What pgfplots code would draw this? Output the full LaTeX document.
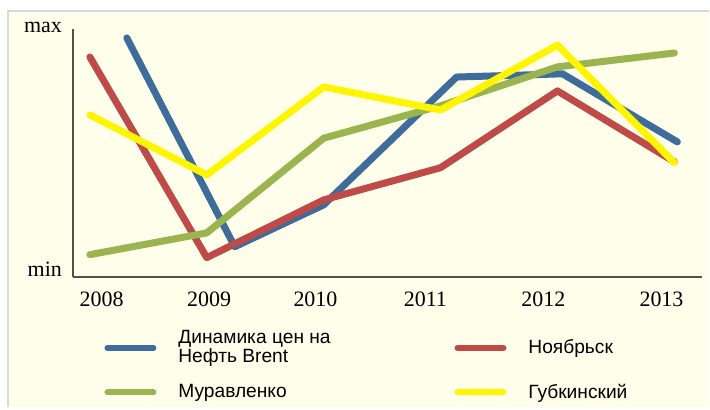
\documentclass[border=0pt]{standalone}
\usepackage{fontspec}
\setmainfont{Liberation Serif}
\newfontfamily\legendfont{Liberation Sans}
\usepackage{pgfplots}
\pgfplotsset{compat=1.18}
\definecolor{cream}{HTML}{FFFEEA}
\definecolor{framegray}{HTML}{D9D9D9}
\definecolor{axisgray}{HTML}{505050}
\definecolor{brent}{HTML}{3E6D9C}
\definecolor{noyabrsk}{HTML}{BE4B48}
\definecolor{muravlenko}{HTML}{9AB450}
\definecolor{gubkinsky}{HTML}{FFF500}

\begin{document}
\begin{tikzpicture}
% page = 710x407 px, 1 px = 0.5 bp, origin at top left
\path[fill=white] (0,0) rectangle (355bp,-203.5bp);
\fill[cream] (4bp,-5.5bp) rectangle (355bp,-203.5bp);
\draw[framegray, line width=0.75bp] (4bp,-203.5bp) -- (4bp,-5.5bp) -- (355bp,-5.5bp);
\begin{axis}[
  at={(36.5bp,-138.5bp)}, anchor=south west,
  scale only axis, width=315bp, height=124bp,
  xmin=2007.855, xmax=2013.239, ymin=0, ymax=100,
  axis x line=bottom, axis y line=left,
  axis line style={-, draw=axisgray, line width=1bp},
  major tick length=0pt, tick style={draw=none},
  xtick={2008.10,2009.02,2009.93,2010.87,2011.88,2012.89},
  xticklabels={2008,2009,2010,2011,2012,2013},
  ytick={0,100},
  yticklabels={min,\raisebox{-2bp}{max}},
  tick label style={font=\fontsize{11bp}{12bp}\selectfont},
  yticklabel style={anchor=base east, xshift=-2bp},
  xticklabel style={yshift=-4bp},
  clip=false,
  legend columns=2,
  legend cell align=left,
  legend image code/.code={\draw[#1, line width=3bp, line cap=round] (0bp,0bp) -- (23bp,0bp);},
  legend style={
    at={(0.040,-0.182)}, anchor=north west,
    draw=none, fill=none,
    font=\legendfont\fontsize{9.6bp}{9.8bp}\selectfont,
    cells={align=left},
    row sep=5bp,
    /tikz/every odd column/.append style={column sep=9bp},
    /tikz/every even column/.append style={column sep=60bp},
  },
]
\addplot[brent, line width=3.5bp, line cap=round, line join=round] coordinates {
  (2008.316,96.4) (2009.239,12.1) (2010.0,29.0) (2011.137,80.6) (2012.043,81.9) (2013.026,54.4)
};
\addlegendentry{Динамика цен на\\Нефть Brent}
\addplot[noyabrsk, line width=3.5bp, line cap=round, line join=round] coordinates {
  (2008,88.7) (2009,7.7) (2010,31.0) (2011,44.0) (2012,75.0) (2013,46.4)
};
\addlegendentry{Ноябрьск}
\addplot[muravlenko, line width=3.5bp, line cap=round, line join=round] coordinates {
  (2008,8.9) (2009,17.7) (2010,55.9) (2011,69.0) (2012,84.7) (2013,90.3)
};
\addlegendentry{Муравленко}
\addplot[gubkinsky, line width=3.5bp, line cap=round, line join=round] coordinates {
  (2008,65.3) (2009,41.1) (2010,76.6) (2011,67.3) (2012,93.5) (2013,46.0)
};
\addlegendentry{Губкинский}
\end{axis}
\end{tikzpicture}
\end{document}
